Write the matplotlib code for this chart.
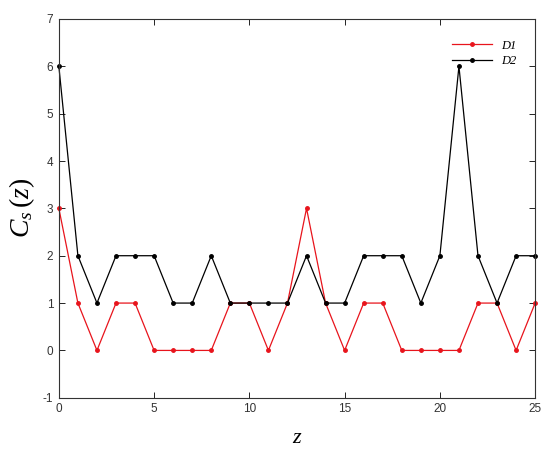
import matplotlib
matplotlib.use("Agg")
import matplotlib.pyplot as plt
import numpy as np

plt.rcParams["mathtext.fontset"] = "custom"
plt.rcParams["mathtext.it"] = "Liberation Serif:italic"
plt.rcParams["mathtext.rm"] = "Liberation Serif"
plt.rcParams["axes.unicode_minus"] = False

# data
z = np.arange(0, 26)
d1 = [3, 1, 0, 1, 1, 0, 0, 0, 0, 1, 1, 0, 1, 3, 1, 0, 1, 1, 0, 0, 0, 0, 1, 1, 0, 1]
d2 = [6, 2, 1, 2, 2, 2, 1, 1, 2, 1, 1, 1, 1, 2, 1, 1, 2, 2, 2, 1, 2, 6, 2, 1, 2, 2]
labels = ["D1", "D2"]

fig = plt.figure(figsize=(5.5, 4.51), dpi=100, facecolor="white")
ax = fig.add_axes([0.107, 0.118, 0.866, 0.840])

ax.plot(z, d1, color="#e8141c", lw=0.9, marker="o", ms=2.5, label=labels[0], clip_on=False)
ax.plot(z, d2, color="black", lw=0.9, marker="o", ms=2.5, label=labels[1], clip_on=False)

ax.set_xlim(0, 25)
ax.set_ylim(-1, 7)
ax.set_xticks([0, 5, 10, 15, 20, 25])
ax.set_yticks(range(-1, 8))
ax.tick_params(direction="in", top=True, right=True, length=4, width=0.6,
               labelsize=8.5, labelcolor="#333333", pad=4)
for tl in ax.get_xticklabels() + ax.get_yticklabels():
    tl.set_family("Liberation Sans")
for s in ax.spines.values():
    s.set_linewidth(0.8)
    s.set_color("#333333")

ax.set_xlabel("z", family="Liberation Serif", style="italic", fontsize=16, labelpad=10)
ax.set_ylabel("$C_s\\,(z)$", fontsize=20, labelpad=4)

leg = ax.legend(loc="upper right", frameon=False, prop={"family": "Liberation Serif", "style": "italic", "size": 9},
                handlelength=3.2, bbox_to_anchor=(0.985, 0.975), labelspacing=0.3)

fig.savefig("out.png", dpi=100, facecolor="white")
